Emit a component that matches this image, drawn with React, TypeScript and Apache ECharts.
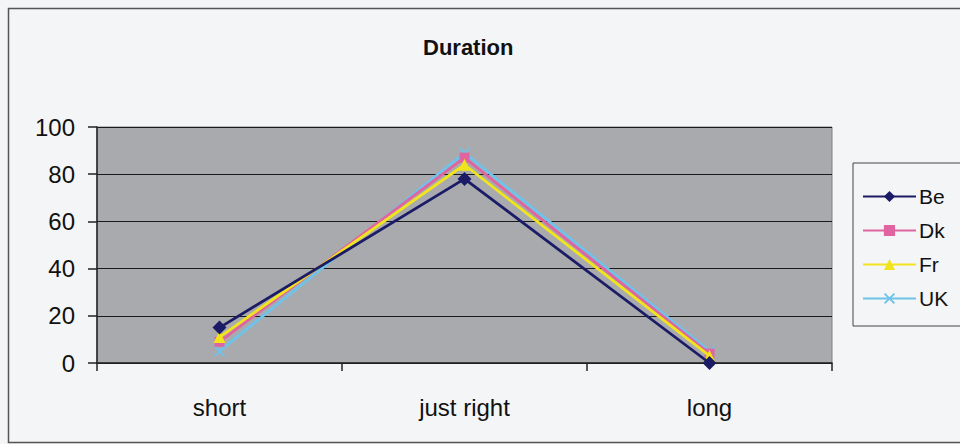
import React, { useEffect, useRef } from "react";
import * as echarts from "echarts";

const categories = ["short", "just right", "long"];
const beValues = [15, 78, 0];
const dkValues = [9, 87, 4];
const frValues = [11, 84, 3];
const ukValues = [5, 89, 5];
const seriesNames = ["Be", "Dk", "Fr", "UK"];
const titleText = "Duration";

const FONT = "Liberation Sans, Arial, sans-serif";
const CROSS = "path://M0,1.2L1.2,0L5,3.8L8.8,0L10,1.2L6.2,5L10,8.8L8.8,10L5,6.2L1.2,10L0,8.8L3.8,5Z";

export default function App() {
  const ref = useRef<HTMLDivElement>(null);
  useEffect(() => {
    document.body.style.margin = "0";
    if (!ref.current) return;
    const chart = echarts.init(ref.current, null, { renderer: "svg" });
    const mk = (name: string, data: number[], color: string, symbol: string, size: number, z: number) => ({
      name,
      type: "line",
      data,
      symbol,
      symbolSize: size,
      z,
      lineStyle: { color, width: 2.8 },
      itemStyle: { color },
      emphasis: { disabled: true },
    });
    chart.setOption({
      animation: false,
      backgroundColor: "#f4f5f7",
      title: {
        text: titleText,
        left: 418,
        top: 31,
        textStyle: { fontFamily: FONT, fontSize: 22, fontWeight: "bold", color: "#111" },
      },
      legend: {
        orient: "vertical",
        left: 853,
        top: 163,
        padding: [23, 40, 17, 9],
        itemGap: 13,
        itemWidth: 53,
        itemHeight: 14,
        borderColor: "#444",
        borderWidth: 1,
        textStyle: { fontFamily: FONT, fontSize: 21, lineHeight: 20, color: "#111", padding: [0, 0, 0, -2] },
        data: seriesNames,
      },
      grid: {
        left: 97,
        right: 128,
        top: 127,
        bottom: 81,
        show: true,
        backgroundColor: "#a8aaae",
        borderColor: "#808080",
        borderWidth: 1,
      },
      xAxis: {
        type: "category",
        data: categories,
        boundaryGap: true,
        axisLine: { lineStyle: { color: "#222", width: 1.5 } },
        axisTick: { show: true, length: 8, lineStyle: { color: "#222", width: 1.5 } },
        axisLabel: { fontFamily: FONT, fontSize: 24, color: "#111", margin: 32 },
      },
      yAxis: {
        type: "value",
        min: 0,
        max: 100,
        interval: 20,
        axisLine: { show: true, lineStyle: { color: "#222", width: 1.5 } },
        axisTick: { show: true, length: 9, lineStyle: { color: "#222", width: 1.5 } },
        axisLabel: { fontFamily: FONT, fontSize: 24, color: "#111", margin: 22 },
        splitLine: { lineStyle: { color: "#1a1a1a", width: 1.2 } },
      },
      graphic: [
        {
          type: "rect",
          shape: { x: 8.5, y: 8.5, width: 960, height: 434 },
          style: { fill: "none", stroke: "#555", lineWidth: 1.5 },
          silent: true,
          z: -1,
        },
      ],
      series: [
        mk("UK", ukValues, "#6fc3ea", CROSS, 11, 2),
        mk("Dk", dkValues, "#e0649f", "rect", 10, 3),
        mk("Fr", frValues, "#f2e41c", "triangle", 12, 4),
        mk("Be", beValues, "#1c1c66", "diamond", 14, 5),
      ],
    });
    return () => chart.dispose();
  }, []);
  return <div ref={ref} style={{ width: 960, height: 444 }} />;
}
